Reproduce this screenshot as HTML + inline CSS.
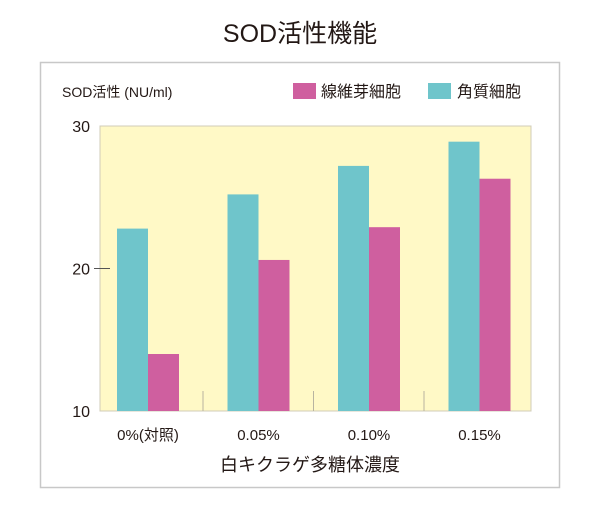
<!DOCTYPE html>
<html><head><meta charset="utf-8"><style>
body{margin:0;width:600px;height:520px;background:#fff;font-family:"Liberation Sans","Noto Sans CJK JP",sans-serif;overflow:hidden}
</style></head><body>
<svg width="600" height="520" font-family="Liberation Sans, Noto Sans CJK JP, sans-serif">
<text x="300" y="42" text-anchor="middle" font-size="25" fill="#231815">SOD活性機能</text>
<rect x="40.5" y="62.5" width="519" height="425" fill="#fff" stroke="#c8c8c8" stroke-width="1.5"/>
<text x="62" y="97" font-size="14" fill="#231815">SOD活性 (NU/ml)</text>
<rect x="293" y="83" width="23" height="16" fill="#cf5f9f"/>
<text x="321" y="97" font-size="16" fill="#231815">線維芽細胞</text>
<rect x="428" y="83" width="23" height="16" fill="#6fc5cb"/>
<text x="457" y="97" font-size="16" fill="#231815">角質細胞</text>
<rect x="100" y="126" width="431" height="285" fill="#fff9c6" stroke="#d0ccb8" stroke-width="1"/>
<g id="bars"></g>
<g id="axes"></g>
<text x="310" y="471" text-anchor="middle" font-size="18" fill="#231815">白キクラゲ多糖体濃度</text>
</svg>
<script>
const categories=["0%(対照)","0.05%","0.10%","0.15%"];
const keratinocyte=[22.8,25.2,27.2,28.9];
const fibroblast=[14.0,20.6,22.9,26.3];
const yTicks=[10,20,30];
const NS="http://www.w3.org/2000/svg";
const y=v=>411-(v-10)*14.25;
const cx=i=>148+i*110.5;
const bw=31;
const bars=document.getElementById('bars'),axes=document.getElementById('axes');
function mk(tag,attrs,parent){const e=document.createElementNS(NS,tag);for(const k in attrs)e.setAttribute(k,attrs[k]);parent.appendChild(e);return e;}
categories.forEach((c,i)=>{
  const a=mk('rect',{x:cx(i)-bw,y:y(keratinocyte[i]),width:bw,height:411-y(keratinocyte[i]),fill:'#6fc5cb'},bars);
  
  
  const b=mk('rect',{x:cx(i),y:y(fibroblast[i]),width:bw,height:411-y(fibroblast[i]),fill:'#cf5f9f'},bars);
  
  
  const t=mk('text',{x:cx(i),y:440,'text-anchor':'middle','font-size':'15',fill:'#231815'},axes);
  t.textContent=c;
  
  
  if(i<categories.length-1){
    const l=mk('line',{x1:cx(i)+55,x2:cx(i)+55,y1:391,y2:411,stroke:'#b8b4a0','stroke-width':1},axes);
    
    
  }
});
yTicks.forEach(v=>{
  const t=mk('text',{x:90,y:y(v)+6,'text-anchor':'end','font-size':'16',fill:'#231815'},axes);
  t.textContent=v;
  
  
  if(v===20){
    const l=mk('line',{x1:94,x2:110,y1:y(v),y2:y(v),stroke:'#555','stroke-width':1},axes);
    
    
  }
});
</script>
</body></html>
